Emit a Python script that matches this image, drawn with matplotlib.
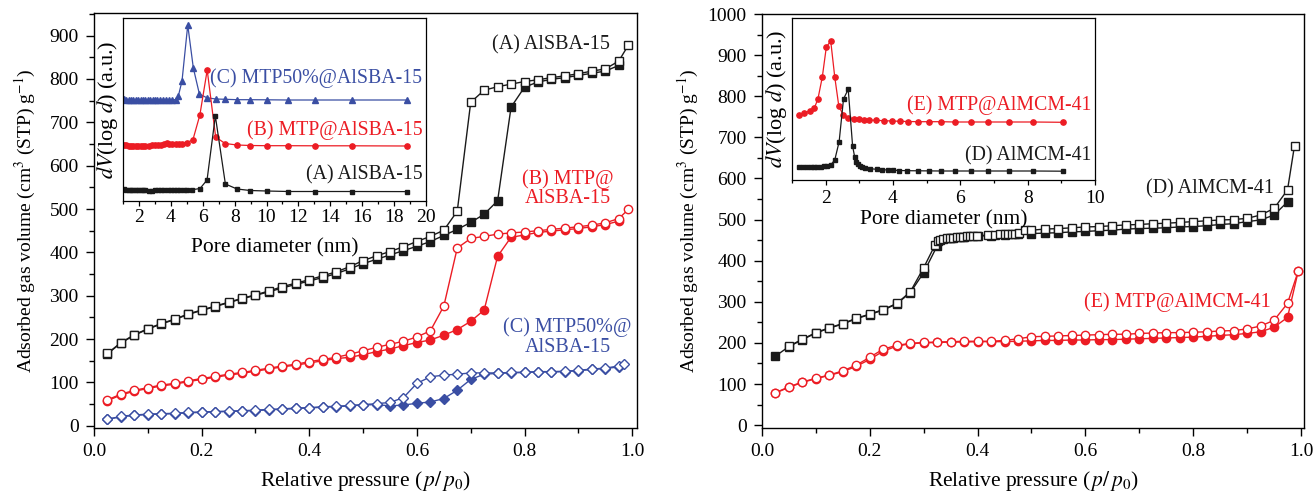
import matplotlib
matplotlib.use("Agg")
import matplotlib.pyplot as plt
from matplotlib.ticker import MultipleLocator

plt.rcParams['font.family'] = ['Liberation Serif', 'DejaVu Serif']
plt.rcParams['mathtext.fontset'] = 'stix'

BLACK = '#1a1a1a'
RED = '#ec1c24'
BLUE = '#3a4ea3'

# ---------------- Left main panel: AlSBA-15 series ----------------
p_a_open = [0.025, 0.05, 0.075, 0.1, 0.125, 0.15, 0.175, 0.2, 0.225, 0.25, 0.275, 0.3, 0.325, 0.35, 0.375, 0.4,
            0.425, 0.45, 0.475, 0.5, 0.525, 0.55, 0.575, 0.6, 0.625, 0.65, 0.675, 0.7, 0.725, 0.75, 0.775, 0.8,
            0.825, 0.85, 0.875, 0.9, 0.925, 0.95, 0.975, 0.993]
v_a_open = [167, 192, 210, 224, 236, 246, 258, 267, 276, 285, 294, 302, 311, 321, 329, 337,
            346, 355, 367, 381, 392, 402, 413, 425, 437, 451, 495, 746, 774, 782, 788, 794,
            798, 803, 807, 812, 818, 823, 841, 878]
p_a_fill = [0.025, 0.05, 0.075, 0.1, 0.125, 0.15, 0.175, 0.2, 0.225, 0.25, 0.275, 0.3, 0.325, 0.35, 0.375, 0.4,
            0.425, 0.45, 0.475, 0.5, 0.525, 0.55, 0.575, 0.6, 0.625, 0.65, 0.675, 0.7, 0.725, 0.75, 0.775, 0.8,
            0.825, 0.85, 0.875, 0.9, 0.925, 0.95, 0.975]
v_a_fill = [166, 191, 209, 223, 235, 245, 257, 266, 275, 284, 293, 301, 309, 318, 326, 334,
            342, 351, 362, 374, 384, 394, 404, 414, 425, 439, 453, 469, 488, 519, 735, 781,
            793, 799, 803, 808, 813, 818, 831]

p_b_open = p_a_open
v_b_open = [60, 73, 82, 88, 94, 98, 104, 109, 114, 119, 123, 128, 133, 138, 142, 148,
            153, 158, 165, 173, 181, 188, 195, 205, 219, 276, 410, 432, 437, 442, 445, 447,
            450, 453, 456, 459, 463, 468, 478, 499]
p_b_fill = p_a_fill
v_b_fill = [58, 71, 80, 86, 92, 96, 102, 107, 112, 117, 121, 126, 131, 136, 140, 145,
            150, 155, 158, 164, 171, 177, 185, 192, 198, 209, 222, 241, 267, 391, 435, 440,
            446, 449, 452, 455, 459, 464, 472]

p_c_open = [0.025, 0.05, 0.075, 0.1, 0.125, 0.15, 0.175, 0.2, 0.225, 0.25, 0.275, 0.3, 0.325, 0.35, 0.375, 0.4,
            0.425, 0.45, 0.475, 0.5, 0.525, 0.55, 0.575, 0.6, 0.625, 0.65, 0.675, 0.7, 0.725, 0.75, 0.775, 0.8,
            0.825, 0.85, 0.875, 0.9, 0.925, 0.95, 0.975, 0.985]
v_c_open = [15, 22, 25, 27, 28, 29, 31, 32, 33, 34, 35, 36, 38, 39, 41, 42,
            44, 45, 47, 49, 51, 54, 65, 98, 113, 117, 119, 122, 122, 122, 123, 124,
            125, 125, 126, 128, 131, 133, 138, 142]
p_c_fill = p_a_fill
v_c_fill = [15, 21, 24, 26, 27, 28, 30, 31, 32, 33, 34, 35, 37, 38, 40, 41,
            43, 44, 46, 48, 49, 46, 48, 52, 55, 63, 82, 107, 119, 121, 122, 123,
            124, 124, 125, 127, 130, 132, 136]

# ---------------- Left inset: pore size distributions ----------------
d_a = [1.05, 1.2, 1.35, 1.5, 1.65, 1.8, 1.95, 2.1, 2.25, 2.4, 2.6, 2.8, 3.0, 3.2, 3.4, 3.6, 3.8, 4.0, 4.2,
       4.4, 4.6, 4.8, 5.0, 5.35, 5.83, 6.27, 6.79, 7.42, 8.15, 8.97, 10.0, 11.37, 13.05, 15.35, 18.8]
f_a = [11.7, 11.4, 11.2, 11.0, 10.9, 10.8, 10.7, 10.7, 10.6, 10.6, 10.5, 10.5, 10.6, 10.8, 11.0, 11.2, 11.2,
       11.3, 11.3, 11.4, 11.4, 11.5, 11.5, 11.3, 12.5, 21, 85, 17, 12, 10.5, 10, 9.5, 9.5, 9.5, 9.4]
d_b = [1.05, 1.2, 1.35, 1.5, 1.65, 1.8, 1.95, 2.1, 2.25, 2.4, 2.6, 2.8, 3.0, 3.2, 3.4, 3.6, 3.75, 3.9, 4.1,
       4.3, 4.5, 4.7, 5.0, 5.38, 5.82, 6.28, 6.81, 7.4, 8.15, 8.97, 10.0, 11.37, 13.05, 15.35, 18.8]
f_b = [56.5, 56, 55.5, 55.3, 55, 55, 55, 55, 55.2, 55.3, 55.5, 55.8, 56, 56.2, 56.5, 57, 58, 57, 57,
       57, 57.3, 57.5, 58.5, 61, 86, 131, 64, 57.5, 56, 55.5, 55.3, 55.3, 55.2, 55.2, 55]
d_c = [1.05, 1.2, 1.35, 1.5, 1.65, 1.8, 1.95, 2.1, 2.25, 2.4, 2.55, 2.7, 2.85, 3.0, 3.15, 3.3, 3.5, 3.7,
       3.9, 4.1, 4.3, 4.47, 4.7, 5.06, 5.41, 5.79, 6.25, 6.81, 7.42, 8.15, 8.97, 10.0, 11.37, 13.05, 15.35, 18.8]
f_c = [102, 101.5, 101.3, 101, 101, 100.8, 100.8, 100.7, 100.7, 100.7, 100.7, 100.7, 100.7, 100.7, 100.8,
       100.8, 101, 101, 101, 101, 101.5, 105, 120, 176, 133, 107, 103.3, 102, 101.7, 101.3, 101.3, 101.2,
       101, 101, 101, 101]

# ---------------- Right main panel: AlMCM-41 series ----------------
p_d_open = [0.05, 0.075, 0.1, 0.125, 0.15, 0.175, 0.2, 0.225, 0.25, 0.275, 0.3, 0.321, 0.327, 0.331, 0.336,
            0.343, 0.349, 0.355, 0.361, 0.367, 0.373, 0.38, 0.386, 0.392, 0.398, 0.42, 0.432, 0.442, 0.451,
            0.457, 0.463, 0.469, 0.476, 0.488, 0.5, 0.525, 0.55, 0.575, 0.6, 0.625, 0.65, 0.675, 0.7, 0.725,
            0.75, 0.775, 0.8, 0.825, 0.85, 0.875, 0.9, 0.925, 0.95, 0.975, 0.988]
v_d_open = [192, 209, 225, 237, 247, 260, 270, 281, 296, 324, 383, 438, 448, 450, 452,
            454, 455, 456, 457, 457.5, 458, 459, 460, 460, 461, 462, 462, 464, 465,
            465.5, 466, 466, 467, 474, 474, 477, 478, 480, 482, 483, 485, 487, 488, 490,
            491, 493, 495, 497, 499, 500, 503, 511, 527, 572, 680]
p_d_fill = [0.025, 0.05, 0.075, 0.1, 0.125, 0.15, 0.175, 0.2, 0.225, 0.25, 0.275, 0.3, 0.325, 0.35, 0.375, 0.4,
            0.425, 0.45, 0.475, 0.5, 0.525, 0.55, 0.575, 0.6, 0.625, 0.65, 0.675, 0.7, 0.725, 0.75, 0.775, 0.8,
            0.825, 0.85, 0.875, 0.9, 0.925, 0.95, 0.975]
v_d_fill = [168, 191, 208, 224, 236, 246, 259, 269, 280, 295, 322, 371, 436, 455, 458, 460,
            461, 463, 464, 466, 467, 468, 470, 471, 473, 474, 477, 478, 479, 480, 482, 483,
            485, 488, 490, 495, 499, 511, 543]

p_e = [0.025, 0.05, 0.075, 0.1, 0.125, 0.15, 0.175, 0.2, 0.225, 0.25, 0.275, 0.3, 0.325, 0.35, 0.375, 0.4,
       0.425, 0.45, 0.475, 0.5, 0.525, 0.55, 0.575, 0.6, 0.625, 0.65, 0.675, 0.7, 0.725, 0.75, 0.775, 0.8,
       0.825, 0.85, 0.875, 0.9, 0.925, 0.95, 0.975, 0.995]
v_e_open = [79, 93, 105, 114, 122, 132, 146, 165, 185, 194, 199, 201, 202, 203, 204, 204,
            204, 206, 210, 215, 216, 217, 218, 219, 220, 221, 221, 223, 224, 225, 225, 226,
            227, 229, 230, 234, 241, 255, 296, 375]
v_e_fill = [78, 92, 104, 113, 121, 130, 143, 160, 180, 192, 198, 200, 201, 202, 202, 203,
            203, 203, 204, 205, 206, 206, 207, 207, 208, 208, 209, 210, 211, 212, 213, 214,
            216, 218, 220, 223, 227, 238, 262, 375]

# ---------------- Right inset ----------------
d_e = [1.2, 1.37, 1.52, 1.66, 1.77, 1.9, 2.02, 2.15, 2.27, 2.39, 2.52, 2.67, 2.83, 2.98, 3.13, 3.3, 3.49,
       3.73, 3.97, 4.21, 4.44, 4.74, 5.08, 5.43, 5.83, 6.31, 6.83, 7.46, 8.17, 9.05]
f_e = [65, 67, 69, 71.7, 81, 103, 133, 139, 103, 74, 65, 62.3, 61, 60.7, 60.3, 60, 59.7, 59.3, 59, 58.7,
       58.5, 58.3, 58.3, 58.3, 58, 58, 58, 58, 58, 57.7]
d_d = [1.2, 1.32, 1.44, 1.55, 1.65, 1.75, 1.85, 1.95, 2.04, 2.16, 2.27, 2.4, 2.53, 2.67, 2.8, 2.86, 2.91,
       2.96, 3.02, 3.09, 3.18, 3.33, 3.51, 3.68, 3.84, 4.0, 4.19, 4.42, 4.74, 5.08, 5.43, 5.83, 6.31, 6.83,
       7.46, 8.17, 9.05]
f_d = [12.7, 12.7, 12.6, 12.6, 12.7, 12.9, 13.2, 13.7, 14.3, 15.5, 20, 38.3, 81, 90.7, 34, 23.3, 18.5,
       16, 14, 13, 12, 11.3, 10.7, 10.3, 10, 9.8, 9.5, 9.3, 9.2, 9.1, 9, 9, 9, 9, 9, 9, 8.8]

W, H = 1313, 492
fig = plt.figure(figsize=(W / 100, H / 100), dpi=100)


def box(l, r, t, b):
    return [l / W, (H - b) / H, (r - l) / W, (b - t) / H]


TFS = 14     # tick labels
ylabel = 'Adsorbed gas volume (cm$^3$ (STP) g$^{-1}$)'
xlabel = r'Relative pressure ($\,p/\,p_0$)'


def style_main(ax):
    ax.tick_params(which='both', direction='out', labelsize=TFS, width=1)
    ax.tick_params(which='major', length=6, pad=5)
    ax.tick_params(which='minor', length=3.5)
    ax.xaxis.set_major_locator(MultipleLocator(0.2))
    ax.xaxis.set_minor_locator(MultipleLocator(0.1))
    ax.yaxis.set_major_locator(MultipleLocator(100))
    ax.yaxis.set_minor_locator(MultipleLocator(50))
    ax.xaxis.set_major_formatter(matplotlib.ticker.FormatStrFormatter('%.1f'))
    ax.set_xlabel(xlabel, fontsize=15.5, labelpad=6)
    ax.set_ylabel(ylabel, fontsize=14, labelpad=8)
    for s in ax.spines.values():
        s.set_linewidth(1.0)


def style_inset(ax, major, pad, labelpad):
    ax.set_yticks([])
    ax.xaxis.set_major_locator(MultipleLocator(major))
    ax.xaxis.set_minor_locator(MultipleLocator(major / 2))
    ax.tick_params(which='both', direction='out', labelsize=TFS, width=0.9, pad=pad)
    ax.tick_params(which='major', length=3.5)
    ax.tick_params(which='minor', length=2)
    ax.set_ylabel('$dV$(log $d$) (a.u.)', fontsize=16, labelpad=2)
    ax.set_xlabel('Pore diameter (nm)', fontsize=15.5, labelpad=labelpad)
    for s in ax.spines.values():
        s.set_linewidth(0.9)


mk = dict(markersize=6, markeredgewidth=1.0, linewidth=1.0)
sq = dict(markersize=5.5, markeredgewidth=1.0, linewidth=1.0)

# ---------- Left ----------
ax1 = fig.add_axes(box(94, 637, 13, 428))
ax1.plot(p_c_fill, v_c_fill, marker='D', color=BLUE, **sq)
ax1.plot(p_c_open, v_c_open, marker='D', color=BLUE, mfc='white', **sq)
ax1.plot(p_b_fill, v_b_fill, marker='o', color=RED, **mk)
ax1.plot(p_b_open, v_b_open, marker='o', color=RED, mfc='white', **mk)
ax1.plot(p_a_fill, v_a_fill, marker='s', color=BLACK, **sq)
ax1.plot(p_a_open, v_a_open, marker='s', color=BLACK, mfc='white', **sq)
ax1.set_xlim(0, 1.009)
ax1.set_ylim(-5, 952)
style_main(ax1)
ax1.text(0.959, 878, '(A) AlSBA-15', color=BLACK, fontsize=14.5, ha='right', va='center')
ax1.text(0.880, 547, '(B) MTP@\nAlSBA-15', color=RED, fontsize=14.5, ha='center', va='center',
         multialignment='center', linespacing=1.05)
ax1.text(0.880, 205, '(C) MTP50%@\nAlSBA-15', color=BLUE, fontsize=14.5, ha='center', va='center',
         multialignment='center', linespacing=1.05)

ins1 = fig.add_axes(box(123, 426, 18, 201))
ins1.set_facecolor('white')
ins1.plot(d_c, f_c, marker='^', color=BLUE, markersize=4, linewidth=0.9)
ins1.plot(d_b, f_b, marker='o', color=RED, markersize=3.8, linewidth=0.9)
ins1.plot(d_a, f_a, marker='s', color=BLACK, markersize=3.4, linewidth=0.9)
ins1.set_xlim(1, 20)
ins1.set_ylim(0, 183)
style_inset(ins1, 2, pad=2, labelpad=9)
ins1.text(6.46, 123, '(C) MTP50%@AlSBA-15', color=BLUE, fontsize=14.3, ha='left', va='center')
ins1.text(19.8, 71, '(B) MTP@AlSBA-15', color=RED, fontsize=14.3, ha='right', va='center')
ins1.text(19.8, 26, '(A) AlSBA-15', color=BLACK, fontsize=14.3, ha='right', va='center')

# ---------- Right ----------
ax2 = fig.add_axes(box(762, 1304, 14, 428))
ax2.plot(p_e, v_e_fill, marker='o', color=RED, **mk)
ax2.plot(p_e, v_e_open, marker='o', color=RED, mfc='white', **mk)
ax2.plot(p_d_fill, v_d_fill, marker='s', color=BLACK, **sq)
ax2.plot(p_d_open, v_d_open, marker='s', color=BLACK, mfc='white', **sq)
ax2.set_xlim(0, 1.0056)
ax2.set_ylim(-7, 1000)
style_main(ax2)
ax2.yaxis.labelpad = 5
ax2.text(0.95, 574, '(D) AlMCM-41', color=BLACK, fontsize=14.5, ha='right', va='center')
ax2.text(0.944, 299, '(E) MTP@AlMCM-41', color=RED, fontsize=14.5, ha='right', va='center')

ins2 = fig.add_axes(box(792, 1095, 18, 180))
ins2.set_facecolor('white')
ins2.plot(d_e, f_e, marker='o', color=RED, markersize=3.8, linewidth=0.9)
ins2.plot(d_d, f_d, marker='s', color=BLACK, markersize=3.4, linewidth=0.9)
ins2.set_xlim(1, 10)
ins2.set_ylim(0, 162)
style_inset(ins2, 2, pad=4, labelpad=2)
ins2.xaxis.set_minor_locator(MultipleLocator(1))
ins2.text(9.89, 75, '(E) MTP@AlMCM-41', color=RED, fontsize=14.3, ha='right', va='center')
ins2.text(9.89, 24.3, '(D) AlMCM-41', color=BLACK, fontsize=14.3, ha='right', va='center')

fig.savefig('out.png', dpi=100)
